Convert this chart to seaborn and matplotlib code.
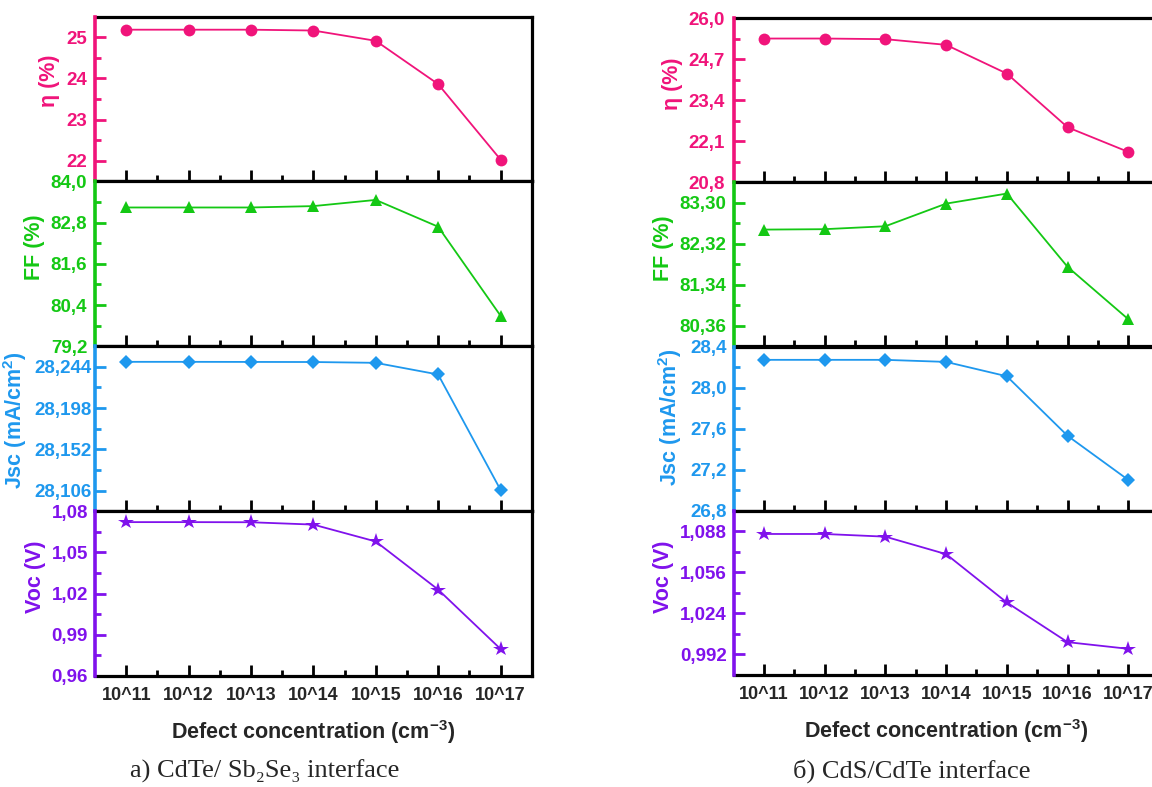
import numpy as np
import pandas as pd
import seaborn as sns
import matplotlib.pyplot as plt
from matplotlib.ticker import FixedLocator, FuncFormatter

# x categories
conc = ["10^11", "10^12", "10^13", "10^14", "10^15", "10^16", "10^17"]

# a) CdTe/ Sb2Se3 interface
eta_a = [25.18, 25.18, 25.18, 25.16, 24.91, 23.86, 22.03]
ff_a = [83.24, 83.24, 83.24, 83.28, 83.46, 82.68, 80.09]
jsc_a = [28.2496, 28.2496, 28.2495, 28.2494, 28.2485, 28.2355, 28.1068]
voc_a = [1.0720, 1.0720, 1.0719, 1.0702, 1.0579, 1.0229, 0.9797]

# б) CdS/CdTe interface
eta_b = [25.35, 25.35, 25.33, 25.15, 24.24, 22.54, 21.76]
ff_b = [82.66, 82.67, 82.74, 83.28, 83.52, 81.77, 80.52]
jsc_b = [28.27, 28.27, 28.27, 28.25, 28.11, 27.53, 27.10]
voc_b = [1.0859, 1.0859, 1.0838, 1.0702, 1.0325, 1.0016, 0.9964]

# axis settings: (ylim low, ylim high, major ticks, decimals)
yaxes_a = [(21.5, 25.5, [22, 23, 24, 25], 0),
           (79.2, 84.0, [79.2, 80.4, 81.6, 82.8, 84.0], 1),
           (28.083, 28.267, [28.106, 28.152, 28.198, 28.244], 3),
           (0.96, 1.08, [0.96, 0.99, 1.02, 1.05, 1.08], 2)]
yaxes_b = [(20.8, 26.0, [20.8, 22.1, 23.4, 24.7, 26.0], 1),
           (79.87, 83.79, [80.36, 81.34, 82.32, 83.30], 2),
           (26.8, 28.4, [26.8, 27.2, 27.6, 28.0, 28.4], 1),
           (0.976, 1.104, [0.992, 1.024, 1.056, 1.088], 3)]

ylabels = ["η (%)", "FF (%)", "Jsc (mA/cm$^{\\mathbf{2}}$)", "Voc (V)"]
colors = ["#F0147A", "#14C814", "#1E98EE", "#8012EC"]
markers = ["o", "^", "D", "*"]
msizes = [8.5, 9, 7.5, 11.5]

sns.set_style("ticks")
plt.rcParams['font.family'] = ['Liberation Sans', 'DejaVu Sans']
plt.rcParams['font.weight'] = 'bold'
plt.rcParams['axes.labelweight'] = 'bold'
plt.rcParams['mathtext.fontset'] = 'custom'
plt.rcParams['mathtext.rm'] = 'Liberation Sans:bold'
plt.rcParams['mathtext.bf'] = 'Liberation Sans:bold'

fig = plt.figure(figsize=(11.52, 7.87), dpi=100)
H = 787.0
W = 1152.0


def draw_column(data, yaxes, left_px, right_px, top_px, bottom_px, caption, cap_x,
                pads, label_y):
    ph = (bottom_px - top_px) / 4.0
    for i in range(4):
        top = top_px + i * ph
        ax = fig.add_axes([left_px / W, 1 - (top + ph) / H,
                           (right_px - left_px) / W, ph / H])
        df = pd.DataFrame({"conc": conc, "val": data[i]})
        sns.lineplot(data=df, x="conc", y="val", ax=ax, color=colors[i],
                     marker=markers[i], markersize=msizes[i], markeredgewidth=0,
                     linewidth=1.3, sort=False)
        lo, hi, ticks, dec = yaxes[i]
        step = ticks[1] - ticks[0]
        ax.set_xlim(-0.5, 6.5)
        ax.set_ylim(lo, hi)
        ax.yaxis.set_major_locator(FixedLocator(ticks))
        minors = [t + step / 2 for t in ticks] + [ticks[0] - step / 2]
        ax.yaxis.set_minor_locator(FixedLocator([m for m in minors if lo - 1e-9 <= m <= hi + 1e-9]))
        ax.yaxis.set_major_formatter(FuncFormatter(
            lambda v, p, d=dec: ("{:.%df}" % d).format(v).replace(".", ",")))
        ax.set_xticks(range(7))
        ax.xaxis.set_minor_locator(FixedLocator([k + 0.5 for k in range(6)]))
        for sp in ["top", "bottom", "right"]:
            ax.spines[sp].set_linewidth(2.3)
            ax.spines[sp].set_color("black")
        ax.spines["left"].set_linewidth(2.6)
        ax.spines["left"].set_color(colors[i])
        ax.spines["left"].set_zorder(5)
        ax.tick_params(axis="y", which="both", direction="in", colors=colors[i],
                       width=2, labelsize=13.5, pad=pads[i])
        ax.tick_params(axis="y", which="major", length=8)
        ax.tick_params(axis="y", which="minor", length=4)
        ax.tick_params(axis="x", which="both", direction="in", color="black",
                       width=2, labelsize=13, pad=8, top=False)
        ax.tick_params(axis="x", which="major", length=8)
        ax.tick_params(axis="x", which="minor", length=4)
        ax.set_ylabel(ylabels[i], color=colors[i], fontsize=15.5, fontweight="bold",
                      labelpad=4, y=label_y[i])
        if i < 3:
            ax.set_xticklabels([])
            ax.set_xlabel("")
        else:
            ax.set_xticklabels(conc, fontweight="bold")
            ax.set_xlabel("Defect concentration (cm$^{-3}$)", fontsize=15.5,
                          fontweight="bold", labelpad=10)
    fig.text(cap_x / W, 1 - 771 / H, caption, ha="center", va="center",
             fontsize=19, fontweight="normal",
             family=["Liberation Serif", "DejaVu Serif"])


draw_column([eta_a, ff_a, jsc_a, voc_a], yaxes_a, 95, 531.7, 16.5, 676,
            "a) CdTe/ Sb₂Se₃ interface", 265,
            [6, 5.5, 2.5, 5], [0.61, 0.6, 0.55, 0.6])
draw_column([eta_b, ff_b, jsc_b, voc_b], yaxes_b, 733.5, 1158.7, 18, 675,
            "б) CdS/CdTe interface", 912,
            [6, 5, 5, 5], [0.6, 0.6, 0.57, 0.6])

fig.savefig("out.png", dpi=100)
